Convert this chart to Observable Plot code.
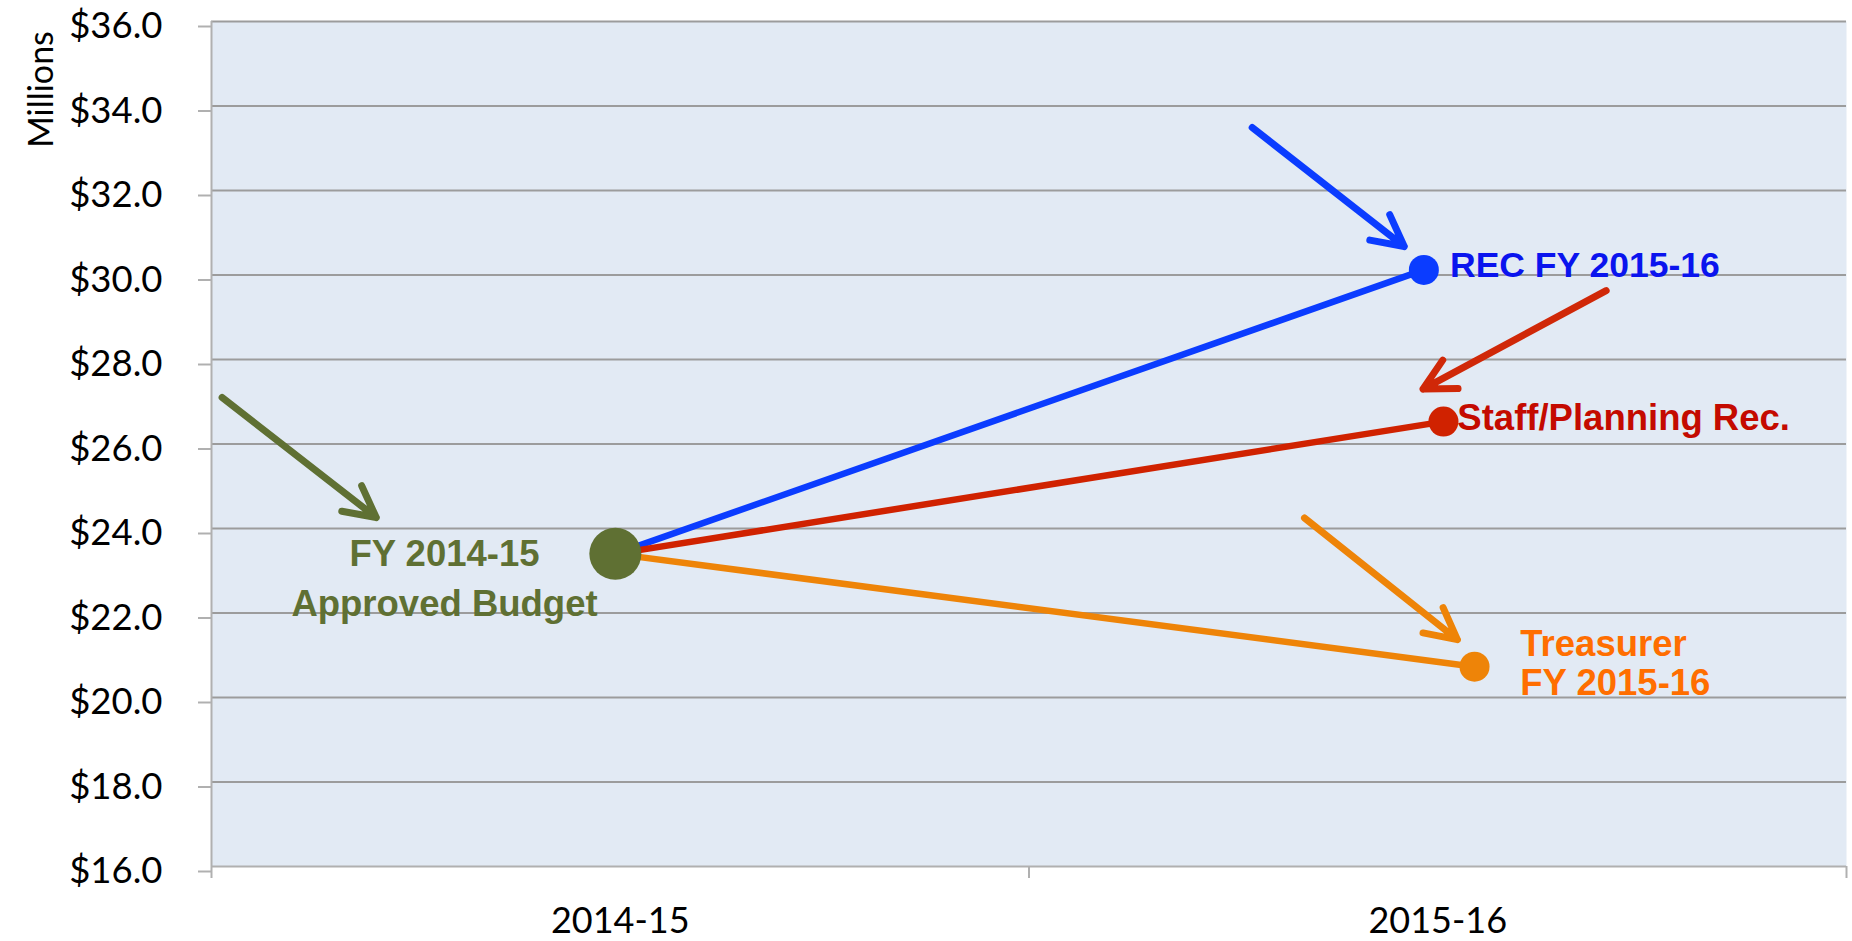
<!DOCTYPE html>
<html>
<head>
<meta charset="utf-8">
<script src="https://cdn.jsdelivr.net/npm/d3@7"></script>
<script src="https://cdn.jsdelivr.net/npm/@observablehq/plot@0.6"></script>
<style>
  html, body { margin: 0; padding: 0; background: #ffffff; }
  #chart svg { display: block; }
</style>
</head>
<body>
<div id="chart"></div>
<script>
// ---- Data ----
const categories = ["2014-15", "2015-16"];
const categoryPositions = [0.5, 1.5];
const bandEdges = [0, 1, 2];
const yTicks = [16, 18, 20, 22, 24, 26, 28, 30, 32, 34, 36];

// FY 2014-15 approved budget (starting point)
const baseName = "FY 2014-15\nApproved Budget";
const baseX = 0.494;
const baseValue = 23.4;

// FY 2015-16 scenarios
const seriesNames = ["REC FY 2015-16", "Staff/Planning Rec.", "Treasurer\nFY 2015-16"];
const seriesX = [1.483, 1.507, 1.545];
const seriesValues = [30.12, 26.53, 20.73];

// Annotation arrows (start -> tip), in chart units
const arrowNames = ["base", "rec", "staff", "treasurer"];
const arrowX1 = [0.013, 1.273, 1.706, 1.337];
const arrowY1 = [27.10, 33.49, 29.63, 24.25];
const arrowX2 = [0.2015, 1.459, 1.482, 1.524];
const arrowY2 = [24.26, 30.675, 27.30, 21.37];

// Label anchor positions, in chart units
const labelX = [1.515, 1.524, 1.601];
const labelY = [30.25, 26.63, 20.82];
const labelSizes = [35.5, 36.5, 36.5];
const baseLabelX = 0.285;
const baseLabelY = 22.9;

// ---- Styling ----
const lineColors = ["#0B3CFF", "#D02200", "#EE8408"];
const textColors = ["#0A14EE", "#C40A00", "#FF6E00"];
const arrowColors = ["#5F7033", "#0B3CFF", "#D02808", "#EE8408"];
const green = "#5F7033";
const labelFont = "'Liberation Sans', Arial, sans-serif";

const links = seriesNames.map((n, i) => ({name: n, x1: baseX, y1: baseValue, x2: seriesX[i], y2: seriesValues[i], color: lineColors[i]}));
const points = seriesNames.map((n, i) => ({name: n, x: seriesX[i], y: seriesValues[i], color: lineColors[i]}));
const labels = seriesNames.map((n, i) => ({name: n, x: labelX[i], y: labelY[i], color: textColors[i], size: labelSizes[i]}));
const arrows = arrowNames.map((n, i) => ({name: n, x1: arrowX1[i], y1: arrowY1[i], x2: arrowX2[i], y2: arrowY2[i], color: arrowColors[i]}));

const chart = Plot.plot({
  width: 1852,
  height: 941,
  marginLeft: 211,
  marginRight: 6,
  marginTop: 21,
  marginBottom: 75,
  style: {fontFamily: "Lato, 'Open Sans', sans-serif", background: "#ffffff", color: "#000"},
  x: {domain: [0, 2], axis: null},
  y: {domain: [16, 36], axis: null},
  marks: [
    Plot.frame({fill: "#E2EAF4", stroke: "none"}),
    Plot.gridY(yTicks.filter(d => d > 16), {stroke: "#9C9C9C", strokeOpacity: 1, strokeWidth: 2}),
    Plot.ruleY([16], {stroke: "#B0B0B0", strokeWidth: 2}),
    Plot.ruleX([0], {y1: 16, y2: 36, stroke: "#B0B0B0", strokeWidth: 2}),
    Plot.axisY({ticks: yTicks, tickSize: 13, tickPadding: 36, tickFormat: d => "$" + d.toFixed(1),
      fontSize: 36.5, stroke: "#B0B0B0", strokeWidth: 2, fill: "#000", label: null, dy: 5}),
    Plot.axisX({ticks: bandEdges, tickSize: 12, tickFormat: () => "", stroke: "#B0B0B0", strokeWidth: 2, label: null}),
    Plot.axisX({ticks: categoryPositions, tickSize: 0, tickPadding: 41, tickFormat: (d, i) => categories[i],
      fontSize: 36, fill: "#000", label: null}),
    Plot.text(["Millions"], {frameAnchor: "top-left", dx: -183, dy: 68, rotate: -90, fontSize: 34, fill: "#000", textAnchor: "middle"}),
    Plot.link(links, {x1: "x1", y1: "y1", x2: "x2", y2: "y2", stroke: "color", strokeWidth: 6.5, strokeLinecap: "round"}),
    Plot.dot([{x: baseX, y: baseValue}], {x: "x", y: "y", r: 26, fill: green}),
    Plot.dot(points, {x: "x", y: "y", r: 15, fill: "color"}),
    Plot.arrow(arrows, {x1: "x1", y1: "y1", x2: "x2", y2: "y2", stroke: "color", strokeWidth: 7,
      headLength: 7.5, headAngle: 55, strokeLinecap: "round", strokeLinejoin: "round"}),
    Plot.text(labels, {x: "x", y: "y", text: "name", fill: "color", fontSize: "size", textAnchor: "start", lineAnchor: "middle",
      fontWeight: "bold", fontFamily: labelFont, lineHeight: 1.08}),
    Plot.text([{x: baseLabelX, y: baseLabelY, t: baseName}], {x: "x", y: "y", text: "t", fill: green, textAnchor: "middle",
      lineAnchor: "middle", fontSize: 36.5, fontWeight: "bold", fontFamily: labelFont, lineHeight: 1.37})
  ]
});
document.getElementById("chart").appendChild(chart);
</script>
</body>
</html>
